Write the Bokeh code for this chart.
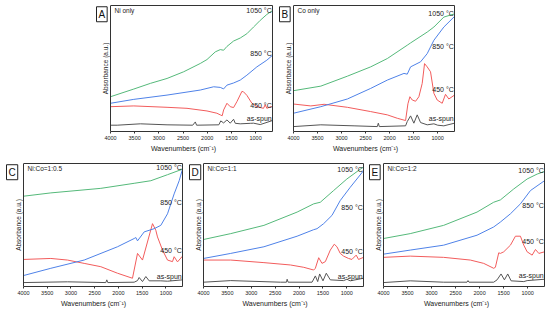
from bokeh.plotting import figure
from bokeh.layouts import column, row
from bokeh.models import Range1d, Label, FixedTicker, LinearAxis
from bokeh.embed import file_html
from bokeh.resources import INLINE

FONT = "Liberation Sans"

# ---------------- data (wavenumber cm-1, absorbance a.u. offset) ----------------
tick_values = [4000, 3500, 3000, 2500, 2000, 1500, 1000]
x_bounds = (650, 4000)
series_names = ["as-spun", "450 \u00b0C", "850 \u00b0C", "1050 \u00b0C"]

# Panel A: Ni only
A_1050_x = [4000, 3518, 3175, 2831, 2487, 2143, 2005, 1833, 1730, 1661, 1592, 1455, 1317, 1180, 1042, 904, 767, 650]
A_1050_y = [27.6, 33.7, 38.2, 42.1, 47.4, 54.0, 57.1, 63.2, 65.0, 64.5, 67.5, 71.8, 74.2, 77.6, 82.9, 88.2, 92.9, 96.0]
A_850_x = [4000, 3518, 2831, 2143, 1867, 1730, 1661, 1592, 1455, 1317, 1180, 973, 767, 650]
A_850_y = [22.4, 25.5, 28.9, 32.9, 35.5, 35.0, 33.8, 36.8, 38.5, 40.8, 44.7, 51.3, 56.6, 60.5]
A_450_x = [4000, 3518, 2831, 2418, 2005, 1800, 1730, 1690, 1661, 1592, 1524, 1455, 1386, 1283, 1250, 1180, 1076, 973, 836, 801, 767, 700, 650]
A_450_y = [19.7, 20.3, 19.2, 18.4, 16.3, 14.5, 13.2, 12.5, 17.1, 22.4, 19.7, 19.0, 23.7, 31.8, 31.5, 28.7, 22.4, 19.7, 18.4, 21.3, 18.4, 19.5, 19.7]
A_spun_x = [4000, 3862, 3381, 2831, 2300, 2246, 2220, 1760, 1720, 1661, 1592, 1524, 1455, 1420, 1317, 1100, 1042, 904, 650]
A_spun_y = [5.0, 5.0, 6.1, 5.3, 5.0, 7.6, 5.0, 5.3, 8.4, 6.8, 9.2, 6.6, 9.7, 6.5, 6.1, 6.5, 6.6, 5.5, 8.7]

# Panel B: Co only
B_1050_x = [4000, 3432, 2879, 2394, 2048, 1633, 1564, 1218, 1079, 872, 650]
B_1050_y = [32.4, 36.0, 43.9, 51.3, 57.9, 68.5, 70.3, 78.9, 82.9, 90.8, 93.4]
B_850_x = [4000, 3432, 2879, 2394, 2048, 1702, 1633, 1564, 1356, 1218, 1079, 872, 650]
B_850_y = [14.5, 19.7, 25.8, 34.2, 40.8, 46.1, 45.5, 51.3, 55.3, 61.8, 72.4, 82.9, 91.3]
B_450_x = [4000, 3640, 3363, 2879, 2394, 2048, 1840, 1668, 1619, 1578, 1529, 1460, 1391, 1322, 1273, 1218, 1149, 1079, 1010, 906, 837, 768, 650]
B_450_y = [21.8, 20.3, 21.6, 19.2, 15.8, 13.2, 10.5, 8.7, 22.0, 27.6, 25.0, 24.0, 27.6, 38.2, 53.9, 51.3, 47.4, 30.3, 25.0, 22.4, 29.5, 25.8, 28.9]
B_spun_x = [4000, 3432, 2740, 2256, 2235, 2214, 1668, 1633, 1564, 1495, 1426, 1356, 1218, 1079, 1000, 872, 650]
B_spun_y = [3.9, 5.3, 4.5, 3.9, 6.6, 3.9, 4.5, 7.9, 12.4, 6.6, 13.2, 7.1, 5.3, 6.1, 5.0, 4.5, 6.6]

# Panel C: Ni:Co=1:0.5
C_1050_x = [4000, 3424, 2371, 1668, 1317, 966, 650]
C_1050_y = [73.4, 76.1, 79.8, 83.9, 86.0, 90.9, 95.4]
C_850_x = [4000, 3424, 2722, 2020, 1668, 1633, 1598, 1457, 1247, 1107, 966, 826, 720, 650]
C_850_y = [8.9, 14.8, 21.5, 32.3, 39.0, 39.8, 37.1, 44.4, 47.0, 49.7, 59.1, 75.3, 86.0, 95.4]
C_450_x = [4000, 3424, 3073, 2722, 2371, 2020, 1704, 1598, 1493, 1282, 1212, 1177, 1071, 966, 861, 826, 755, 650]
C_450_y = [22.0, 22.8, 21.5, 18.8, 16.1, 10.8, 6.7, 26.9, 21.5, 51.1, 45.7, 40.3, 29.6, 21.5, 20.2, 24.2, 20.0, 24.7]
C_spun_x = [4000, 3073, 2266, 2245, 2224, 1668, 1598, 1563, 1493, 1422, 1352, 1107, 966, 650]
C_spun_y = [3.2, 3.8, 3.2, 5.4, 3.2, 3.5, 4.8, 7.3, 4.0, 8.1, 4.6, 4.6, 4.3, 5.4]

# Panel D: Ni:Co=1:1
D_1050_x = [4000, 3430, 2735, 2040, 1693, 1554, 1276, 998, 650]
D_1050_y = [38.2, 43.0, 49.7, 60.5, 67.2, 68.5, 78.0, 87.4, 97.3]
D_850_x = [4000, 3430, 2735, 2040, 1693, 1623, 1484, 1310, 1137, 929, 650]
D_850_y = [22.8, 26.9, 32.3, 40.9, 46.2, 47.0, 51.1, 57.8, 69.9, 80.6, 94.1]
D_450_x = [4000, 3430, 2735, 2179, 1901, 1693, 1658, 1588, 1519, 1449, 1345, 1262, 1206, 1137, 1067, 963, 893, 803, 754, 650]
D_450_y = [21.5, 21.5, 19.4, 17.5, 15.6, 13.4, 14.8, 23.4, 18.8, 20.2, 29.6, 34.4, 32.3, 26.9, 24.7, 22.8, 22.0, 25.5, 22.0, 23.7]
D_spun_x = [4000, 3430, 2388, 2263, 2249, 2228, 1727, 1658, 1609, 1568, 1498, 1429, 1345, 1067, 998, 929, 650]
D_spun_y = [3.5, 4.8, 3.5, 3.5, 5.9, 3.5, 3.5, 8.6, 4.0, 10.2, 4.6, 10.8, 5.4, 4.8, 5.9, 4.6, 6.7]

# Panel E: Ni:Co=1:2
E_1050_x = [4000, 3444, 2749, 2054, 1707, 1568, 1290, 1011, 803, 650]
E_1050_y = [39.0, 43.0, 49.7, 60.5, 68.5, 70.4, 79.3, 87.4, 91.4, 93.5]
E_850_x = [4000, 3444, 2749, 2054, 1707, 1568, 1359, 1151, 942, 650]
E_850_y = [26.3, 29.6, 33.6, 41.7, 48.4, 52.4, 59.1, 67.2, 78.0, 86.0]
E_450_x = [4000, 3444, 2749, 2193, 1915, 1707, 1672, 1602, 1568, 1498, 1359, 1255, 1151, 1081, 1011, 907, 838, 768, 650]
E_450_y = [23.7, 24.7, 23.7, 21.5, 18.8, 14.8, 15.6, 27.4, 26.9, 28.2, 33.6, 40.9, 40.9, 33.6, 28.2, 25.5, 30.1, 26.9, 28.2]
E_spun_x = [4000, 3444, 2749, 2263, 2242, 2221, 1707, 1637, 1554, 1484, 1415, 1345, 1081, 1011, 650]
E_spun_y = [3.2, 4.6, 3.5, 3.5, 4.8, 3.5, 3.5, 5.4, 10.2, 5.4, 10.2, 4.6, 4.0, 4.8, 5.9]

# label heights (y position of each curve label) per panel
A_label_y = [10.5, 21.0, 61.8, 96.0]
B_label_y = [10.5, 33.4, 67.6, 94.0]
C_label_y = [8.1, 29.6, 68.5, 96.8]
D_label_y = [8.1, 28.2, 64.5, 95.4]
E_label_y = [8.6, 36.3, 65.9, 94.6]

COLORS = ["#555555", "#f25c5c", "#4f82e8", "#55b97a"]
EDGE = "#333333"


def blank_axis(**kw):
    ax = LinearAxis(ticker=FixedTicker(ticks=[]), major_label_text_font_size="0px",
                    major_tick_out=0, major_tick_in=0, major_label_standoff=0,
                    minor_tick_out=0, minor_tick_in=0,
                    major_tick_line_color=None, minor_tick_line_color=None,
                    axis_line_color=EDGE, **kw)
    return ax


def panel(letter, name, curves, label_y, pad, box_px, letter_gap,
          bl, br, bt, bb, frame_h):
    # pad: pixels of frame kept left of the 4000 cm-1 edge (room for letter box)
    x_left = x_bounds[1] + pad * (x_bounds[1] - x_bounds[0]) / box_px
    width = bl + pad + box_px + br
    height = bt + frame_h + bb
    p = figure(width=width, height=height,
               x_range=Range1d(x_left, x_bounds[0]), y_range=Range1d(0, 100),
               output_backend="svg", toolbar_location=None,
               min_border_left=bl, min_border_right=br,
               min_border_top=bt, min_border_bottom=bb)
    p.grid.visible = False
    p.outline_line_color = None
    p.background_fill_color = "white"
    p.border_fill_color = "white"

    for (xs, ys), c in zip(curves, COLORS):
        p.line(xs, ys, line_color=c, line_width=1)

    # bottom axis
    xa = p.xaxis[0]
    xa.bounds = x_bounds
    xa.ticker = FixedTicker(ticks=tick_values)
    xa.axis_label = "Wavenumbers (cm\u207b\u00b9)"
    xa.axis_label_text_font = FONT
    xa.axis_label_text_font_style = "normal"
    xa.axis_label_text_font_size = "7px"
    xa.axis_label_text_color = "#222222"
    xa.axis_label_standoff = 2
    xa.major_label_text_font = FONT
    xa.major_label_text_font_size = "5.5px"
    xa.major_label_text_color = "#222222"
    xa.major_label_standoff = 2
    xa.major_tick_out = 2
    xa.major_tick_in = 0
    xa.minor_tick_line_color = None
    xa.axis_line_color = EDGE
    xa.major_tick_line_color = EDGE

    # left axis placed at the 4000 cm-1 edge of the panel box
    ya = p.yaxis[0]
    ya.fixed_location = x_bounds[1]
    ya.ticker = FixedTicker(ticks=[])
    ya.major_tick_line_color = None
    ya.minor_tick_line_color = None
    ya.major_label_standoff = 0
    ya.major_label_text_font_size = "0px"
    ya.axis_label = "Absorbance (a.u.)"
    ya.axis_label_text_font = FONT
    ya.axis_label_text_font_style = "normal"
    ya.axis_label_text_font_size = "6.5px"
    ya.axis_label_text_color = "#222222"
    ya.axis_label_standoff = 2
    ya.axis_line_color = EDGE

    # top and right edges of the box
    p.add_layout(blank_axis(bounds=x_bounds), "above")
    p.add_layout(blank_axis(), "right")

    # boxed panel letter
    p.add_layout(Label(x=pad - letter_gap - 13, y=99, x_units="screen", y_units="data",
                       text=letter, text_font=FONT, text_font_size="10px",
                       text_color="#111111", anchor="top_left", padding=2,
                       border_line_color="#222222", border_line_width=1,
                       background_fill_color="white"))
    # sample name
    p.add_layout(Label(x=pad + 4, y=98.5, x_units="screen", y_units="data",
                       text=name, text_font=FONT, text_font_size="6.5px",
                       text_color="#222222", text_align="left",
                       text_baseline="top"))
    # curve labels
    for nm, ly in zip(series_names, label_y):
        p.add_layout(Label(x=666, y=ly, text=nm, text_font=FONT,
                           text_font_size="7px", text_color="#222222",
                           text_align="right", text_baseline="middle"))
    return p


pA = panel("A", "Ni only",
           [(A_spun_x, A_spun_y), (A_450_x, A_450_y), (A_850_x, A_850_y), (A_1050_x, A_1050_y)],
           A_label_y, pad=16, box_px=162, letter_gap=1,
           bl=94, br=2, bt=5, bb=22, frame_h=127)
pB = panel("B", "Co only",
           [(B_spun_x, B_spun_y), (B_450_x, B_450_y), (B_850_x, B_850_y), (B_1050_x, B_1050_y)],
           B_label_y, pad=17, box_px=161, letter_gap=1,
           bl=2, br=3, bt=5, bb=22, frame_h=127)
pC = panel("C", "Ni:Co=1:0.5",
           [(C_spun_x, C_spun_y), (C_450_x, C_450_y), (C_850_x, C_850_y), (C_1050_x, C_1050_y)],
           C_label_y, pad=19, box_px=159, letter_gap=4,
           bl=4, br=2, bt=9, bb=22, frame_h=124)
pD = panel("D", "Ni:Co=1:1",
           [(D_spun_x, D_spun_y), (D_450_x, D_450_y), (D_850_x, D_850_y), (D_1050_x, D_1050_y)],
           D_label_y, pad=17, box_px=160, letter_gap=1,
           bl=2, br=3, bt=9, bb=22, frame_h=124)
pE = panel("E", "Ni:Co=1:2",
           [(E_spun_x, E_spun_y), (E_450_x, E_450_y), (E_850_x, E_850_y), (E_1050_x, E_1050_y)],
           E_label_y, pad=15, box_px=161, letter_gap=1,
           bl=2, br=3, bt=9, bb=22, frame_h=124)

layout = column(row(pA, pB, spacing=0), row(pC, pD, pE, spacing=0), spacing=0)

open("out.html", "w").write(file_html(layout, INLINE))
